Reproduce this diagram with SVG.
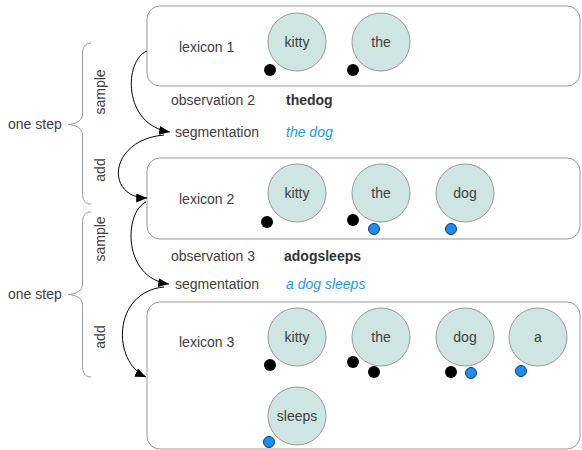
<svg xmlns="http://www.w3.org/2000/svg" width="582" height="450" viewBox="0 0 582 450">
<defs>
<style>
text{font-family:"Liberation Sans",Arial,sans-serif;font-size:14px;fill:#404040}
.box{fill:#fff;stroke:#999;stroke-width:1}
.w{fill:#cfe5e2;stroke:#999;stroke-width:1}
.wt{text-anchor:middle}
.k{fill:#000}
.b{fill:#1a8ff0;stroke:#123a5c;stroke-width:1}
.bold{font-weight:bold;fill:#333}
.seg{font-style:italic;fill:#1a9af0}
.brace{fill:none;stroke:#999;stroke-width:1}
.arr{fill:none;stroke:#000;stroke-width:1;marker-end:url(#ah)}
</style>
<marker id="ah" viewBox="0 0 12 10" refX="12" refY="5" markerWidth="11" markerHeight="9" markerUnits="userSpaceOnUse" orient="auto">
<path d="M0,0 L12,5 L0,10 z" fill="#000"/>
</marker>
</defs>
<rect width="582" height="450" fill="#fff"/>

<g id="lexicon1">
<rect class="box" x="147" y="6" width="433" height="80" rx="13"/>
<text x="179" y="52">lexicon 1</text>
<circle class="w" cx="297" cy="42" r="29"/><text class="wt" x="297" y="47">kitty</text>
<circle class="w" cx="381" cy="42" r="29"/><text class="wt" x="381" y="47">the</text>
<circle class="k" cx="270" cy="70" r="6"/>
<circle class="k" cx="353" cy="70" r="6"/>
</g>

<g id="obs2">
<text x="171" y="105">observation 2</text>
<text class="bold" x="286" y="105">thedog</text>
<text x="175" y="137">segmentation</text>
<text class="seg" x="286" y="137">the dog</text>
</g>

<g id="lexicon2">
<rect class="box" x="147" y="158" width="433" height="81" rx="13"/>
<text x="179" y="204">lexicon 2</text>
<circle class="w" cx="297" cy="193" r="29"/><text class="wt" x="297" y="198">kitty</text>
<circle class="w" cx="381" cy="193" r="29"/><text class="wt" x="381" y="198">the</text>
<circle class="w" cx="465" cy="193" r="29"/><text class="wt" x="465" y="198">dog</text>
<circle class="k" cx="267" cy="222" r="6"/>
<circle class="k" cx="353" cy="220" r="6"/>
<circle class="b" cx="374" cy="229" r="5.5"/>
<circle class="b" cx="451" cy="229" r="5.5"/>
</g>

<g id="obs3">
<text x="171" y="261">observation 3</text>
<text class="bold" x="284" y="261">adogsleeps</text>
<text x="175" y="289">segmentation</text>
<text class="seg" x="286" y="289">a dog sleeps</text>
</g>

<g id="lexicon3">
<rect class="box" x="147" y="302" width="433" height="147" rx="13"/>
<text x="179" y="347">lexicon 3</text>
<circle class="w" cx="297" cy="337" r="29"/><text class="wt" x="297" y="342">kitty</text>
<circle class="w" cx="381" cy="337" r="29"/><text class="wt" x="381" y="342">the</text>
<circle class="w" cx="465" cy="337" r="29"/><text class="wt" x="465" y="342">dog</text>
<circle class="w" cx="538" cy="337" r="29"/><text class="wt" x="538" y="342">a</text>
<circle class="w" cx="297" cy="416" r="29"/><text class="wt" x="297" y="421">sleeps</text>
<circle class="k" cx="270" cy="365" r="6"/>
<circle class="k" cx="353" cy="362" r="6"/>
<circle class="k" cx="374" cy="372" r="6"/>
<circle class="k" cx="451" cy="372" r="6"/>
<circle class="b" cx="471" cy="373" r="5.5"/>
<circle class="b" cx="521" cy="371" r="5.5"/>
<circle class="b" cx="269" cy="442" r="5.5"/>
</g>

<g id="step1">
<path class="brace" d="M91,43 C85,43 82.5,47 82.5,55 L82.5,114 C82.5,121 76,124 68,124.5 C76,125 82.5,128 82.5,135 L82.5,192 C82.5,200 85,204 91,204"/>
<text x="8" y="129">one step</text>
<text transform="translate(105,92) rotate(-90)" text-anchor="middle">sample</text>
<text transform="translate(105,170) rotate(-90)" text-anchor="middle">add</text>
</g>

<g id="step2">
<path class="brace" d="M91,212 C85,212 82.5,216 82.5,224 L82.5,284 C82.5,291 76,294 68,294.5 C76,295 82.5,298 82.5,305 L82.5,365 C82.5,373 85,377 91,377"/>
<text x="8" y="299">one step</text>
<text transform="translate(105,239) rotate(-90)" text-anchor="middle">sample</text>
<text transform="translate(105,337) rotate(-90)" text-anchor="middle">add</text>
</g>

<g id="connectors">
<path class="arr" d="M147,51 C124,60 122,125 170,132"/>
<path class="arr" d="M164,135 C108,140 105,198 147,198"/>
<path class="arr" d="M146,202 C124,212 122,278 169,284"/>
<path class="arr" d="M164,287 C112,292 112,362 146,377"/>
</g>
</svg>
